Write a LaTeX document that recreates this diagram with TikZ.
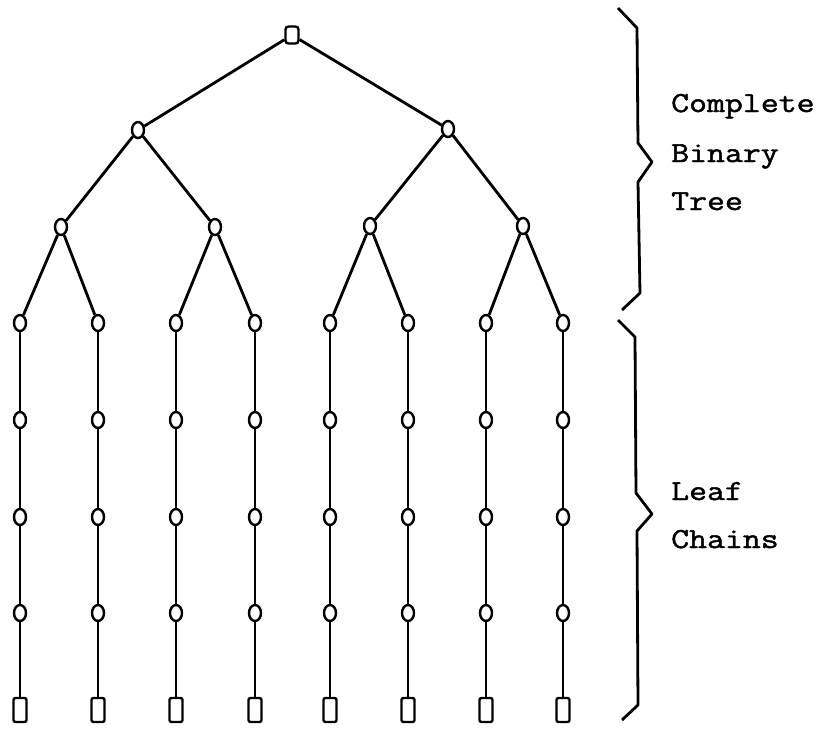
\documentclass[tikz,border=0pt]{standalone}
\usepackage{fontspec}
\usetikzlibrary{shapes.geometric}
\newfontfamily\typew{Latin Modern Mono}[FakeBold=1.6,FakeStretch=1.2]
\begin{document}
\begin{tikzpicture}[x=1pt,y=-1pt,
  lnk/.style={line width=2.8pt},
  knot/.style={draw,line width=2.4pt,ellipse,minimum width=12pt,minimum height=16pt,inner sep=0pt},
  rootbox/.style={draw,line width=2.4pt,rounded corners=3pt,minimum width=13pt,minimum height=17pt,inner sep=0pt},
  leafbox/.style={draw,line width=2.4pt,rounded corners=2pt,minimum width=13pt,minimum height=24pt,inner sep=0pt},
  lbl/.style={anchor=base west,inner sep=0pt,font=\fontsize{29}{35}\typew},
  brace/.style={line width=2.8pt,line join=round}]
\useasboundingbox (0,0) rectangle (828,729);
% tree
\node[rootbox] (r) at (292,35) {};
\node[knot] (a) at (138,130) {};
\node[knot] (b) at (448,129) {};
\node[knot] (a1) at (61,227) {};
\node[knot] (a2) at (215,227) {};
\node[knot] (b1) at (370,226) {};
\node[knot] (b2) at (523,226) {};
\draw[lnk] (r) -- (a);
\draw[lnk] (r) -- (b);
\draw[lnk] (a) -- (a1);
\draw[lnk] (a) -- (a2);
\draw[lnk] (b) -- (b1);
\draw[lnk] (b) -- (b2);
% chains
\foreach \i/\x/\p in {1/20/a1,2/98/a1,3/176/a2,4/255/a2,5/330/b1,6/408/b1,7/486/b2,8/563/b2}{
  \node[knot] (c\i r1) at (\x,323) {};
  \node[knot] (c\i r2) at (\x,420) {};
  \node[knot] (c\i r3) at (\x,517) {};
  \node[knot] (c\i r4) at (\x,613) {};
  \node[leafbox] (c\i r5) at (\x,710) {};
  \draw[lnk] (\p) -- (c\i r1);
  \draw[lnk] (c\i r1) -- (c\i r2);
  \draw[lnk] (c\i r2) -- (c\i r3);
  \draw[lnk] (c\i r3) -- (c\i r4);
  \draw[lnk] (c\i r4) -- (c\i r5);
}
% braces
\coordinate (u0) at (618,8);
\coordinate (u5) at (622,310);
\draw[brace] (u0) -- (637,28) -- (638,143) -- (652,162) -- (638,182) -- (640,293) -- (u5);
\coordinate (l0) at (618,320);
\coordinate (l5) at (622,720);
\draw[brace] (l0) -- (635,337) -- (636,493) -- (652,514) -- (637,531) -- (638,705) -- (l5);
% labels
\node[lbl] (t1) at (671,112) {Complete};
\node[lbl] (t2) at (671,162) {Binary};
\node[lbl] (t3) at (671,210) {Tree};
\node[lbl] (t4) at (671,500) {Leaf};
\node[lbl] (t5) at (671,548) {Chains};
\end{tikzpicture}
\end{document}
